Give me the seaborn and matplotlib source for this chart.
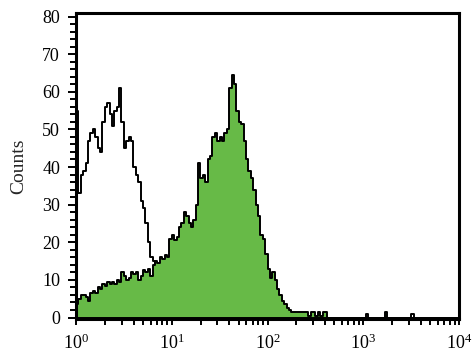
import numpy as np
import pandas as pd
import seaborn as sns
import matplotlib
matplotlib.use('Agg')
import matplotlib.pyplot as plt

# histogram channels: log10(fluorescence), 0.025 decade per channel, 10^0 .. 10^4
edges = list(np.linspace(0, 4, 161))
centers = [(a + b) / 2 for a, b in zip(edges[:-1], edges[1:])]

# unstained / isotype control (open outline)
control = [
    55, 33, 38, 39, 41, 47, 49, 50, 48, 45,
    44, 52, 56, 57, 54, 51, 55, 56, 61, 52,
    45, 47, 48, 47, 40, 38, 36, 31, 29, 25,
    20, 16, 15, 14, 13, 12, 10, 8, 6, 5,
    4, 3, 2, 2, 1, 1, 0, 0, 0, 0,
    0, 0, 0, 0, 0, 0, 0, 0, 0, 0,
    0, 0, 0, 0, 0, 0, 0, 0, 0, 0,
    0, 0, 0, 0, 0, 0, 0, 0, 0, 0,
    0, 0, 0, 0, 0, 0, 0, 0, 0, 0,
    0, 0, 0, 0, 0, 0, 0, 0, 0, 0,
    0, 0, 0, 0, 0, 0, 0, 0, 0, 0,
    0, 0, 0, 0, 0, 0, 0, 0, 0, 0,
    0, 1, 0, 0, 0, 0, 0, 0, 0, 0,
    0, 0, 0, 0, 0, 0, 0, 0, 0, 0,
    1, 0, 0, 0, 0, 0, 0, 0, 0, 0,
    0, 0, 0, 0, 0, 0, 0, 0, 0, 0,
]

# stained sample (green filled)
stained = [
    3.5, 5, 6, 6, 5.5, 4.5, 6.5, 7, 6.5, 8,
    7.5, 9, 8.5, 9.5, 9, 9.5, 9, 10, 9.5, 12,
    11, 10, 10.5, 12, 11.5, 12, 10, 11, 12.5, 12,
    13, 11, 14, 15, 14.5, 16, 15.5, 16.5, 16, 21,
    22, 20.5, 21.5, 24, 25, 28, 27, 25, 24, 26,
    30, 41, 37, 38, 36, 42, 43, 48, 49, 47,
    48, 47, 49, 50, 61, 64.5, 62, 55, 52, 51.5,
    47, 42, 39, 37, 34, 30, 27, 22, 21, 17,
    13, 10.5, 12, 10, 7.5, 6, 4.5, 3.5, 2.5, 2,
    1.5, 1.5, 1.5, 1.5, 1.5, 1.5, 1.5, 0.5, 1.5, 1.5,
    0.5, 1.5, 0.5, 1.5, 1.5, 0, 0, 0, 0, 0,
    0, 0, 0, 0, 0, 0, 0, 0, 0, 0,
    0, 0, 0, 0, 0, 0, 0, 0, 0, 1.5,
    0, 0, 0, 0, 0, 0, 0, 0, 0, 0,
    0, 0, 0, 0, 0, 0, 0, 0, 0, 0,
    0, 0, 0, 0, 0, 0, 0, 0, 0, 0,
]

xtick_labels = ['$10^{0}$', '$10^{1}$', '$10^{2}$', '$10^{3}$', '$10^{4}$']

df = pd.DataFrame({'log_fl': centers, 'control': control, 'stained': stained})

sns.set_style('ticks')
plt.rcParams['font.family'] = ['Liberation Serif', 'DejaVu Serif']
plt.rcParams['mathtext.fontset'] = 'custom'
plt.rcParams['mathtext.rm'] = 'Liberation Serif'
plt.rcParams['mathtext.it'] = 'Liberation Serif'
plt.rcParams['mathtext.default'] = 'rm'

fig = plt.figure(figsize=(4.73, 3.57), dpi=100)
ax = fig.add_axes([0.1607, 0.1053, 0.8097, 0.859])

sns.histplot(data=df, x='log_fl', weights='control', bins=edges, element='step',
             fill=False, color='black', linewidth=1.4, ax=ax, zorder=2)
sns.histplot(data=df, x='log_fl', weights='stained', bins=edges, element='step',
             fill=True, color='#67ba47', alpha=1, edgecolor='black', linewidth=1.4,
             ax=ax, zorder=2.2)

ax.set_xlim(0, 4)
ax.set_ylim(-0.5, 81)
ax.set_xticks([0, 1, 2, 3, 4])
ax.set_xticklabels(xtick_labels)
minor = [k + np.log10(m) for k in range(4) for m in range(2, 10)]
ax.set_xticks(minor, minor=True)
ax.set_yticks(range(0, 81, 10))
ax.set_yticks(range(0, 81, 2), minor=True)

ax.set_xlabel('')
ax.set_ylabel('Counts', fontsize=14, labelpad=11)
ax.tick_params(axis='both', which='both', direction='out', color='black',
               width=1.4, labelsize=13, labelcolor='black')
ax.tick_params(axis='y', which='major', length=5.5, pad=6)
ax.tick_params(axis='y', which='minor', length=4.5)
ax.tick_params(axis='x', which='major', length=4.5, pad=6)
ax.tick_params(axis='x', which='minor', length=4)

for s in ax.spines.values():
    s.set_visible(True)
    s.set_color('black')
    s.set_linewidth(2.2)

fig.savefig('out.png', dpi=100)
